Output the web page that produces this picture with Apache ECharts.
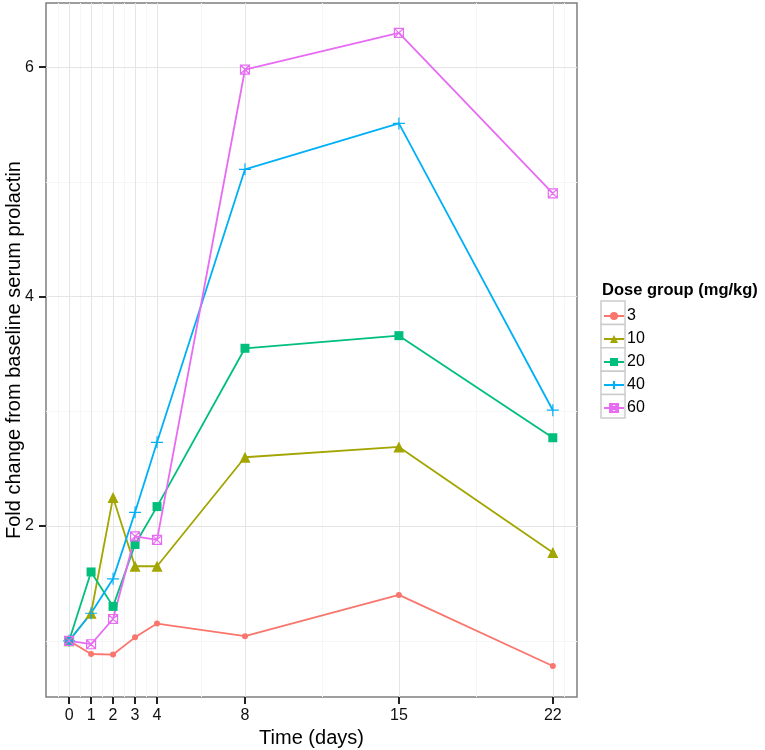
<!DOCTYPE html>
<html>
<head>
<meta charset="utf-8">
<script src="https://cdn.jsdelivr.net/npm/echarts@6/dist/echarts.min.js"></script>
<style>
  html, body { margin: 0; padding: 0; background: #fff; }
  #chart { width: 765px; height: 750px; }
</style>
</head>
<body>
<div id="chart"></div>
<script>
const days = [0, 1, 2, 3, 4, 8, 15, 22];
const groups = ["3", "10", "20", "40", "60"];
const dose3 = [1.0, 0.885, 0.88, 1.03, 1.15, 1.04, 1.40, 0.78];
const dose10 = [1.0, 1.24, 2.25, 1.65, 1.65, 2.60, 2.69, 1.77];
const dose20 = [1.0, 1.60, 1.30, 1.84, 2.17, 3.55, 3.66, 2.77];
const dose40 = [1.0, 1.24, 1.54, 2.12, 2.73, 5.11, 5.51, 3.01];
const dose60 = [1.0, 0.97, 1.19, 1.91, 1.88, 5.98, 6.30, 4.90];
const xTicks = [0, 1, 2, 3, 4, 8, 15, 22];
const xMinor = [-0.5, 0.5, 1.5, 2.5, 3.5, 6, 11.5, 18.5, 22.5];
const yTicks = [2, 4, 6];
const yMinor = [1, 3, 5];

const chart = echarts.init(document.getElementById("chart"));

const colors = ["#F8766D", "#A3A500", "#00BF7D", "#00B0F6", "#E76BF3"];
const values = [dose3, dose10, dose20, dose40, dose60];

// ggplot-like point shapes
const shapes = [
  { symbol: "circle", size: 6, fill: true },
  { symbol: "triangle", size: 11, fill: true },
  { symbol: "rect", size: 9, fill: true },
  { symbol: "path://M5,0L5,10M0,5L10,5", size: 12, fill: false },
  { symbol: "path://M0,0L10,0L10,10L0,10ZM0,0L10,10M10,0L0,10", size: 9, fill: false },
];

const font = "Liberation Sans, Arial, sans-serif";

// panel grid lines (major + minor, ggplot theme_bw style)
const gridLines = {
  name: "grid",
  type: "line",
  data: [],
  silent: true,
  z: 1,
  markLine: {
    silent: true,
    z: 1,
    symbol: "none",
    label: { show: false },
    animation: false,
    data: [
      ...xMinor.map((v) => ({ xAxis: v, lineStyle: { color: "#f6f6f6", width: 1, type: "solid" } })),
      ...yMinor.map((v) => ({ yAxis: v, lineStyle: { color: "#f6f6f6", width: 1, type: "solid" } })),
      ...xTicks.map((v) => ({ xAxis: v, lineStyle: { color: "#e5e5e5", width: 1, type: "solid" } })),
      ...yTicks.map((v) => ({ yAxis: v, lineStyle: { color: "#e5e5e5", width: 1, type: "solid" } })),
    ],
  },
};

const series = groups.map((g, i) => ({
  name: g,
  type: "line",
  z: 10,
  data: days.map((d, j) => [d, values[i][j]]),
  symbol: shapes[i].symbol,
  symbolSize: shapes[i].size,
  showAllSymbol: true,
  lineStyle: { color: colors[i], width: 1.8 },
  itemStyle: shapes[i].fill
    ? { color: colors[i] }
    : { color: "none", borderColor: colors[i], borderWidth: 1.2 },
  emphasis: { disabled: true },
  animation: false,
}));

const option = {
  animation: false,
  textStyle: { fontFamily: font },
  grid: {
    left: 46,
    top: 3,
    right: 188,
    bottom: 53,
    outerBoundsMode: "none",
    containLabel: false,
    show: true,
    borderColor: "#7f7f7f",
    borderWidth: 1.5,
    backgroundColor: "#fff",
  },
  title: {
    text: "Dose group (mg/kg)",
    left: 602,
    top: 282,
    padding: 0,
    textStyle: { fontFamily: font, fontSize: 16.5, fontWeight: "bold", color: "#000" },
  },
  legend: {
    data: groups,
    orient: "vertical",
    left: 603,
    top: 308,
    padding: 0,
    itemWidth: 20,
    itemHeight: 10,
    itemGap: 7,
    selectedMode: false,
    textStyle: { fontFamily: font, fontSize: 16, lineHeight: 16, color: "#000", padding: [0, 0, 0, -2] },
  },
  graphic: groups.map((g, i) => ({
    type: "rect",
    z: -1,
    shape: { x: 601, y: 301 + i * 23.4, width: 24, height: 23.4 },
    style: { fill: "#fff", stroke: "#cccccc", lineWidth: 1.5 },
  })),
  xAxis: {
    type: "value",
    min: -1.05,
    max: 23.1,
    name: "Time (days)",
    nameLocation: "middle",
    nameGap: 31,
    nameMoveOverlap: false,
    nameTextStyle: { fontFamily: font, fontSize: 20, color: "#000" },
    axisLine: { show: false, onZero: false },
    splitLine: { show: false },
    axisTick: {
      show: true,
      length: 7,
      customValues: xTicks,
      lineStyle: { color: "#222", width: 2 },
    },
    axisLabel: {
      customValues: xTicks,
      fontSize: 16,
      color: "#111",
      margin: 11,
    },
  },
  yAxis: {
    type: "value",
    min: 0.51,
    max: 6.56,
    name: "Fold change from baseline serum prolactin",
    nameLocation: "middle",
    nameGap: 22,
    nameMoveOverlap: false,
    nameTextStyle: { fontFamily: font, fontSize: 20, color: "#000" },
    axisLine: { show: false, onZero: false },
    splitLine: { show: false },
    axisTick: {
      show: true,
      length: 7,
      customValues: yTicks,
      lineStyle: { color: "#222", width: 2 },
    },
    axisLabel: {
      customValues: yTicks,
      fontSize: 16,
      color: "#111",
      margin: 12,
    },
  },
  series: [gridLines, ...series],
};

chart.setOption(option);
</script>
</body>
</html>
